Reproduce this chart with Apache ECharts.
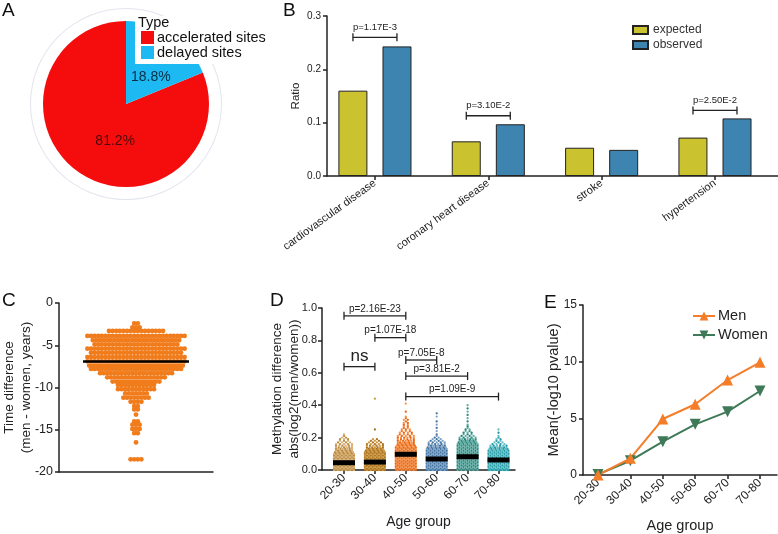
<!DOCTYPE html>
<html lang="en">
<head>
<meta charset="UTF-8">
<title>Figure</title>
<style>
    html, body { margin: 0; padding: 0; background: #fff; }
    #container { width: 778px; height: 534px; }
</style>
</head>
<body>
<div id="container"></div>
<script src="https://cdn.jsdelivr.net/npm/echarts@6/dist/echarts.min.js"></script>
<script>
// ---- A: pie
var siteTypes = ['accelerated sites', 'delayed sites'];
var sitePercents = [81.2, 18.8];

// ---- B: expected vs observed ratio
var diseases = ['cardiovascular disease', 'coronary heart disease', 'stroke', 'hypertension'];
var expectedRatio = [0.160, 0.065, 0.053, 0.072];
var observedRatio = [0.243, 0.097, 0.049, 0.108];
var diseasePairs = [[1, 1, 0.26], [2, 2, 0.113], [4, 4, 0.123]];
var diseaseP = ['p=1.17E-3', 'p=3.10E-2', 'p=2.50E-2'];

// ---- C: time difference dot rows [value, number of dots]
var timeRows = [
    [-2.4, 2], [-2.9, 3], [-3.3, 16], [-3.9, 28], [-4.4, 25], [-4.9, 24], [-5.4, 28],
    [-5.9, 26], [-6.4, 28], [-6.9, 28], [-7.4, 27], [-7.8, 26], [-8.3, 21], [-8.8, 17],
    [-9.3, 14], [-9.7, 11], [-10.2, 11], [-10.7, 7], [-11.2, 8], [-11.7, 4], [-12.2, 2],
    [-12.6, 2], [-13.2, 1], [-14.0, 2], [-14.4, 3], [-14.9, 3], [-15.4, 2], [-16.5, 1], [-18.5, 4]
];
var timeMean = -6.93;

// ---- D: methylation difference, dots per 0.01 bin starting at 0
var ageGroups = ['20-30', '30-40', '40-50', '50-60', '60-70', '70-80'];
var methylCounts = [
    [11, 11, 11, 11, 11, 11, 11, 11, 11, 11, 11, 10, 9, 8, 7, 6, 5, 4, 3, 3, 2, 1, 1],
    [11, 11, 11, 11, 11, 11, 11, 11, 11, 11, 11, 11, 10, 9, 7, 6, 5, 4, 3, 2],
    [11, 11, 11, 11, 11, 11, 11, 11, 11, 11, 11, 11, 11, 11, 11, 10, 9, 8, 7, 6, 6, 5, 4, 4, 3, 3, 2, 2, 2, 2, 1, 2, 1, 1],
    [11, 11, 11, 11, 11, 11, 11, 11, 11, 11, 11, 11, 11, 11, 10, 8, 6, 5, 4, 3, 2, 1, 1],
    [11, 11, 11, 11, 11, 11, 11, 11, 11, 11, 11, 11, 11, 11, 11, 11, 11, 10, 9, 7, 5, 4, 3, 3, 2, 2, 1, 1, 1],
    [11, 11, 11, 11, 11, 11, 11, 11, 11, 11, 11, 11, 11, 10, 8, 6, 4, 3, 2, 2, 1, 1]
];
var methylOutliers = [
    [],
    [0.25, 0.44],
    [0.36, 0.41],
    [0.24, 0.26, 0.28, 0.30, 0.33, 0.35],
    [0.30, 0.32, 0.34, 0.36, 0.38, 0.40],
    [0.23, 0.25]
];
var methylMeans = [0.045, 0.049, 0.097, 0.068, 0.082, 0.062];
var methylPairs = [[0, 2, 0.952], [1, 2, 0.817], [0, 1, 0.638], [2, 3, 0.679], [2, 4, 0.580], [2, 5, 0.453]];
var methylP = ['p=2.16E-23', 'p=1.07E-18', 'ns', 'p=7.05E-8', 'p=3.81E-2', 'p=1.09E-9'];

// ---- E: mean -log10 p
var menMean = [0, 1.47, 4.94, 6.24, 8.38, 9.94];
var womenMean = [0.05, 1.26, 2.94, 4.47, 5.59, 7.41];

var FONT = '"Liberation Sans", Arial, sans-serif';
var INK = '#222';
var groupColors = [
    ['#d8b074', '#bb8c45'],
    ['#cf9843', '#aa7420'],
    ['#f5934a', '#ea6512'],
    ['#7da3c9', '#45749f'],
    ['#5fb0a5', '#26867c'],
    ['#60c0c6', '#2699a6']
];

function bracketRenderer(labels, halfPx, fontSize, gap, bigLabel) {
    return function (params, api) {
        var y = api.value(2);
        var a = api.coord([api.value(0), y]);
        var b = api.coord([api.value(1), y]);
        a[0] -= halfPx;
        b[0] += halfPx;
        var cap = 4;
        var st = { stroke: INK, lineWidth: 1.3 };
        var txt = labels[params.dataIndex];
        var fs = txt === bigLabel ? 17 : fontSize;
        return {
            type: 'group',
            children: [
                { type: 'line', shape: { x1: a[0], y1: a[1], x2: b[0], y2: b[1] }, style: st },
                { type: 'line', shape: { x1: a[0], y1: a[1] - cap, x2: a[0], y2: a[1] + cap }, style: st },
                { type: 'line', shape: { x1: b[0], y1: b[1] - cap, x2: b[0], y2: b[1] + cap }, style: st },
                {
                    type: 'text', x: (a[0] + b[0]) / 2, y: a[1] - gap,
                    style: {
                        text: txt, fill: INK, font: fs + 'px ' + FONT,
                        align: 'center', verticalAlign: 'bottom',
                        textAlign: 'center', textVerticalAlign: 'bottom'
                    }
                }
            ]
        };
    };
}

function meanRenderer(halfPx, width) {
    return function (params, api) {
        var c = api.coord([api.value(0), api.value(1)]);
        return {
            type: 'line',
            shape: { x1: c[0] - halfPx, y1: c[1], x2: c[0] + halfPx, y2: c[1] },
            style: { stroke: '#000', lineWidth: width }
        };
    };
}

// one row of dots centred on the group; thin rows are spread a bit wider
function dotRowRenderer(step, maxSpread, r, colorsFor) {
    return function (params, api) {
        var g = api.value(0), n = api.value(2);
        var c = api.coord([g, api.value(1)]);
        var cols = colorsFor(g);
        var s = n > 1 ? Math.max(step, Math.min(maxSpread / (n - 1), step * 2)) : step;
        var kids = [];
        for (var k = 0; k < n; k++) {
            kids.push({
                type: 'circle',
                shape: { cx: c[0] + (k - (n - 1) / 2) * s, cy: c[1], r: r },
                style: { fill: cols[(k + params.dataIndex) % cols.length] }
            });
        }
        return { type: 'group', children: kids };
    };
}

function axisLook(fontSize, margin) {
    return {
        nameMoveOverlap: false,
        axisLine: { show: true, onZero: false, lineStyle: { color: INK, width: 1.5 } },
        axisTick: { show: true, length: 4, lineStyle: { color: INK, width: 1.5 } },
        axisLabel: { color: INK, fontSize: fontSize, fontFamily: FONT, margin: margin },
        splitLine: { show: false }
    };
}

function merge(a, b) {
    var o = {};
    for (var k in a) o[k] = a[k];
    for (var k2 in b) {
        if (o[k2] && typeof o[k2] === 'object' && typeof b[k2] === 'object' && !Array.isArray(b[k2])) {
            o[k2] = merge(o[k2], b[k2]);
        } else {
            o[k2] = b[k2];
        }
    }
    return o;
}

function panelTitle(t, left, top) {
    return { text: t, left: left, top: top, padding: 0, textStyle: { fontSize: 19, fontWeight: 'normal', color: '#111' } };
}

// build data
var methylDots = [];
methylCounts.forEach(function (counts, g) {
    counts.forEach(function (n, i) {
        if (n > 0) methylDots.push([g, i * 0.01, n]);
    });
    methylOutliers[g].forEach(function (v) {
        methylDots.push([g, v, 1]);
    });
});
var groupIdx = ageGroups.map(function (_, i) { return i; });

var container = document.getElementById('container');
var ec = echarts.init(container, null, { renderer: 'canvas' });

var option = {
    animation: false,
    backgroundColor: '#fff',
    textStyle: { fontFamily: FONT },
    title: [
        panelTitle('A', 2, 1),
        panelTitle('B', 283, 1),
        panelTitle('C', 2, 291),
        panelTitle('D', 270, 291),
        panelTitle('E', 544, 293),
        { text: 'Type', left: 138, top: 15, padding: 0, z: 10, textStyle: { fontSize: 14.5, fontWeight: 'normal', color: '#111' } }
    ],
    legend: [
        {
            data: siteTypes, left: 135, top: 16, orient: 'vertical', icon: 'rect',
            itemWidth: 13, itemHeight: 13, itemGap: 0, padding: [14, 4, 4, 6],
            backgroundColor: '#fff', z: 8,
            textStyle: { fontSize: 14.5, lineHeight: 13, color: '#111', padding: [0, 0, 0, -2] }
        },
        {
            data: ['expected', 'observed'], left: 632, top: 24, orient: 'vertical', icon: 'rect',
            itemWidth: 15, itemHeight: 8, itemGap: 3, padding: 0,
            textStyle: { fontSize: 12, lineHeight: 12, color: '#333' }
        },
        {
            data: ['Men', 'Women'], left: 692, top: 308, orient: 'vertical',
            itemWidth: 22, itemHeight: 11, itemGap: 3, padding: 0,
            textStyle: { fontSize: 14.5, lineHeight: 16, color: INK, padding: [0, 0, 0, -2] }
        }
    ],
    grid: [
        { left: 327, top: 16, width: 451, height: 160, containLabel: false, outerBoundsMode: 'none' },
        { left: 59, top: 303, width: 154, height: 169, containLabel: false, outerBoundsMode: 'none' },
        { left: 322, top: 308, width: 193, height: 162, containLabel: false, outerBoundsMode: 'none' },
        { left: 583, top: 305, width: 194, height: 170, containLabel: false, outerBoundsMode: 'none' }
    ],
    xAxis: [
        merge(axisLook(11, 6), {
            gridIndex: 0, type: 'value', min: 0.577, max: 4.556,
            axisTick: { customValues: [1, 2, 3, 4] },
            axisLabel: {
                customValues: [1, 2, 3, 4], rotate: 36,
                formatter: function (v) { return diseases[Math.round(v) - 1]; }
            }
        }),
        merge(axisLook(12, 6), {
            gridIndex: 1, type: 'value', min: -1, max: 1,
            axisTick: { show: false }, axisLabel: { show: false }
        }),
        merge(axisLook(12, 6), {
            gridIndex: 2, type: 'value', min: -0.712, max: 5.534,
            name: 'Age group', nameLocation: 'middle', nameGap: 45,
            nameTextStyle: { fontSize: 14, color: INK, fontFamily: FONT },
            axisTick: { customValues: groupIdx },
            axisLabel: {
                customValues: groupIdx, rotate: 45,
                formatter: function (v) { return ageGroups[Math.round(v)]; }
            }
        }),
        merge(axisLook(12, 6), {
            gridIndex: 3, type: 'value', min: -0.463, max: 5.525,
            name: 'Age group', nameLocation: 'middle', nameGap: 43,
            nameTextStyle: { fontSize: 14.5, color: INK, fontFamily: FONT },
            axisTick: { customValues: groupIdx },
            axisLabel: {
                customValues: groupIdx, rotate: 45,
                formatter: function (v) { return ageGroups[Math.round(v)]; }
            }
        })
    ],
    yAxis: [
        merge(axisLook(10, 6), {
            gridIndex: 0, type: 'value', min: 0, max: 0.3, interval: 0.1,
            name: 'Ratio', nameLocation: 'middle', nameGap: 25,
            nameTextStyle: { fontSize: 11.5, color: INK, fontFamily: FONT },
            axisLabel: { formatter: function (v) { return v.toFixed(1); } }
        }),
        merge(axisLook(12.5, 6), {
            gridIndex: 1, type: 'value', min: -20, max: 0, interval: 5,
            name: 'Time difference\n(men - women, years)', nameLocation: 'middle', nameGap: 24,
            nameTextStyle: { fontSize: 13.5, lineHeight: 17, color: INK, fontFamily: FONT }
        }),
        merge(axisLook(11, 5), {
            gridIndex: 2, type: 'value', min: 0, max: 1, interval: 0.2,
            name: 'Methylation difference\nabs(log2(men/women))', nameLocation: 'middle', nameGap: 19,
            nameTextStyle: { fontSize: 13.5, lineHeight: 17, color: INK, fontFamily: FONT },
            axisLabel: { formatter: function (v) { return v.toFixed(1); } }
        }),
        merge(axisLook(12, 6), {
            gridIndex: 3, type: 'value', min: 0, max: 15, interval: 5,
            name: 'Mean(-log10 pvalue)', nameLocation: 'middle', nameGap: 22,
            nameTextStyle: { fontSize: 14.5, color: INK, fontFamily: FONT }
        })
    ],
    series: [
        // A
        {
            type: 'pie', name: 'ring', center: [126, 104], radius: [95, 96],
            silent: true, z: 1, label: { show: false }, labelLine: { show: false },
            itemStyle: { color: '#e2e5ee' }, emphasis: { disabled: true },
            data: [{ name: 'ring', value: 1 }]
        },
        {
            type: 'pie', name: 'Type', center: [126, 104], radius: 83,
            startAngle: 90, clockwise: false, z: 2,
            emphasis: { disabled: true },
            label: {
                show: true, position: 'inside', fontSize: 14, fontFamily: FONT,
                formatter: function (p) { return p.value.toFixed(1) + '%'; }
            },
            labelLine: { show: false },
            data: [
                { name: siteTypes[0], value: sitePercents[0], itemStyle: { color: '#f50d0d' }, label: { color: '#4a0a0a', offset: [14, 0] } },
                { name: siteTypes[1], value: sitePercents[1], itemStyle: { color: '#1cb9f2' }, label: { color: '#0b2c44', offset: [0, 10] } }
            ]
        },
        // B
        {
            type: 'bar', name: 'expected', xAxisIndex: 0, yAxisIndex: 0,
            barWidth: 29, barGap: '52%',
            itemStyle: { color: '#cbc230', borderColor: INK, borderWidth: 1 },
            data: expectedRatio.map(function (v, i) { return [i + 1, v]; })
        },
        {
            type: 'bar', name: 'observed', xAxisIndex: 0, yAxisIndex: 0,
            barWidth: 29, barGap: '52%',
            itemStyle: { color: '#3e84b1', borderColor: INK, borderWidth: 1 },
            data: observedRatio.map(function (v, i) { return [i + 1, v]; })
        },
        {
            type: 'custom', xAxisIndex: 0, yAxisIndex: 0, silent: true,
            encode: { x: [0, 1], y: 2 },
            renderItem: bracketRenderer(diseaseP, 22, 9.5, 5),
            data: diseasePairs
        },
        // C
        {
            type: 'custom', xAxisIndex: 1, yAxisIndex: 1, silent: true,
            encode: { x: 0, y: 1 },
            renderItem: dotRowRenderer(3.6, 0, 2.4, function () { return ['#f07c1c']; }),
            data: timeRows.map(function (r) { return [0, r[0], r[1]]; })
        },
        {
            type: 'custom', xAxisIndex: 1, yAxisIndex: 1, silent: true, z: 5,
            encode: { x: 0, y: 1 },
            renderItem: meanRenderer(53, 2.5),
            data: [[0, timeMean]]
        },
        // D
        {
            type: 'custom', xAxisIndex: 2, yAxisIndex: 2, silent: true,
            encode: { x: 0, y: 1 },
            renderItem: dotRowRenderer(2.0, 16, 1.15, function (g) { return groupColors[g]; }),
            data: methylDots
        },
        {
            type: 'custom', xAxisIndex: 2, yAxisIndex: 2, silent: true, z: 5,
            encode: { x: 0, y: 1 },
            renderItem: meanRenderer(11, 5),
            data: methylMeans.map(function (v, i) { return [i, v]; })
        },
        {
            type: 'custom', xAxisIndex: 2, yAxisIndex: 2, silent: true,
            encode: { x: [0, 1], y: 2 },
            renderItem: bracketRenderer(methylP, 0, 10, 2, 'ns'),
            data: methylPairs
        },
        // E
        {
            type: 'line', name: 'Women', xAxisIndex: 3, yAxisIndex: 3,
            symbol: 'triangle', symbolRotate: 180, symbolSize: 11,
            lineStyle: { color: '#3f7a58', width: 2 },
            itemStyle: { color: '#3f7a58' },
            data: womenMean.map(function (v, i) { return [i, v]; })
        },
        {
            type: 'line', name: 'Men', xAxisIndex: 3, yAxisIndex: 3,
            symbol: 'triangle', symbolSize: 11,
            lineStyle: { color: '#f47d2a', width: 2 },
            itemStyle: { color: '#f47d2a' },
            data: menMean.map(function (v, i) { return [i, v]; })
        }
    ]
};

ec.setOption(option);
</script>
</body>
</html>
